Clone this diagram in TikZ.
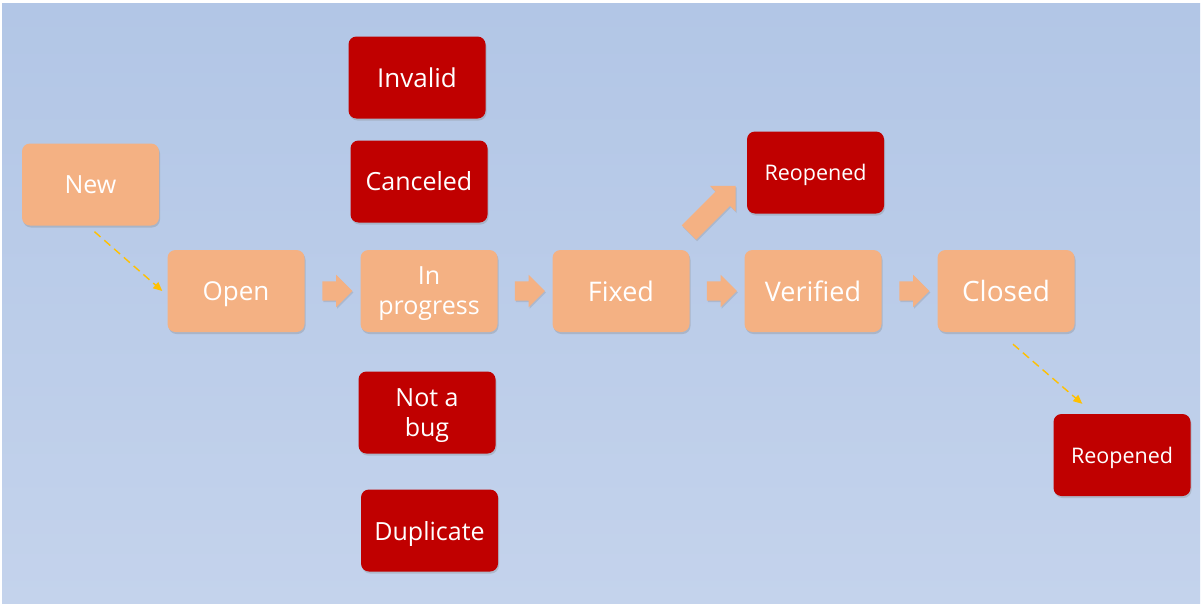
\documentclass[tikz,border=0pt]{standalone}
\usepackage{fontspec}
\setmainfont{Open Sans}
\usetikzlibrary{shapes.arrows,shadows,calc,arrows.meta}
\definecolor{peach}{HTML}{F4B183}
\definecolor{bugred}{HTML}{C00000}
\definecolor{dashyellow}{HTML}{FFC000}
\definecolor{bgtop}{HTML}{B2C6E6}
\definecolor{bgmid}{HTML}{ABBFE3}
\definecolor{bgbot}{HTML}{C4D3EC}
\newcommand{\fs}[1]{\fontsize{#1}{30}\selectfont}
\begin{document}
\begin{tikzpicture}[x=1pt,y=-1pt,
  box/.style={rectangle, rounded corners=8pt, minimum width=137pt, minimum height=82pt,
    inner sep=0pt, text=white, align=center, text depth=0pt,
    drop shadow={shadow xshift=1pt, shadow yshift=-2pt, opacity=0.3}},
  state/.style={box, fill=peach},
  reject/.style={box, fill=bugred},
  blockarrow/.style={single arrow, fill=peach, inner xsep=0pt, inner ysep=9.5pt,
    minimum height=30pt, single arrow head extend=6.5pt,
    single arrow tip angle=90,
    drop shadow={shadow xshift=1pt, shadow yshift=-1.5pt, opacity=0.25}},
  dashlink/.style={draw=dashyellow, line width=1.4pt, dash pattern=on 8pt off 5pt,
    -{Triangle[length=9pt,width=8pt]}}]

% canvas and background gradient
\useasboundingbox (0,0) rectangle (1202,605);
\fill[white] (0,0) rectangle (1202,605);
\shade[top color=bgtop, middle color=bgmid, bottom color=bgbot] (2,3) rectangle (1200,603);

% main workflow
\node[state, font=\fs{25}] (new)    at (90.5,184.5) {New};
\node[state, font=\fs{26}] (open)   at (236,291)    {Open};
\node[state, font=\fs{25}] (prog)   at (429,291)    {In\\progress};
\node[state, font=\fs{27}] (fixed)  at (621,291)    {Fixed};
\node[state, font=\fs{27}] (verif)  at (813,291)    {Verified};
\node[state, font=\fs{28}] (closed) at (1006,291)   {Closed};

% rejected states
\node[reject, font=\fs{26}] (invalid)  at (417,77.5)   {Invalid};
\node[reject, font=\fs{25}] (canceled) at (419,181.5)  {Canceled};
\node[reject, font=\fs{25}] (notbug)   at (427,412.5)  {Not a\\bug};
\node[reject, font=\fs{25}] (dup)      at (429.5,530.5){Duplicate};
\node[reject, font=\fs{21.5}] (reopA)  at (815.5,172.5){Reopened};
\node[reject, font=\fs{21.5}] (reopB)  at (1122,455)   {Reopened};

% block arrows between consecutive states
\node[blockarrow] at ($(open.east)!0.5!(prog.west)$) {};
\node[blockarrow] at ($(prog.east)!0.5!(fixed.west)$) {};
\node[blockarrow] at ($(fixed.east)!0.5!(verif.west)$) {};
\node[blockarrow] at ($(verif.east)!0.5!(closed.west)$) {};
\node[blockarrow, rotate=45, minimum height=66pt, inner ysep=10pt,
  single arrow head extend=8pt] at ($(fixed.north east)+(19,-37)$) {};

% dashed transitions
\draw[dashlink] ([xshift=4pt,yshift=-6pt]new.south) -- ([xshift=-5pt]open.west);
\draw[dashlink] ([xshift=7pt,yshift=-12pt]closed.south) -- ([xshift=29pt,yshift=10pt]reopB.north west);
\end{tikzpicture}
\end{document}
